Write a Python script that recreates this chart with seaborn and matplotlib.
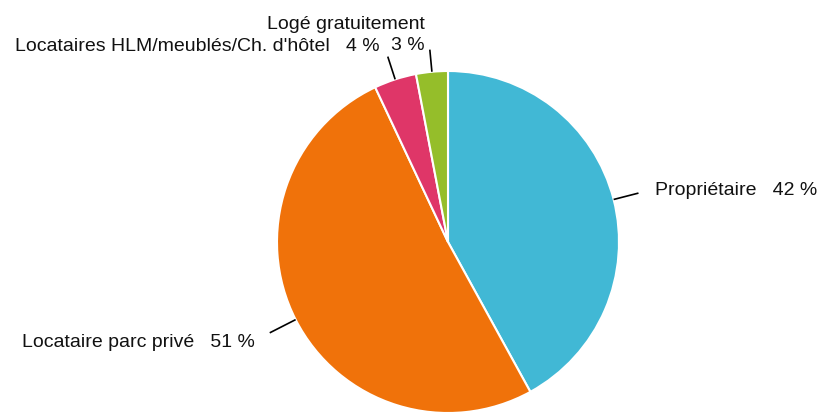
import numpy as np
import matplotlib
matplotlib.use("Agg")
import matplotlib.pyplot as plt
import seaborn as sns

categories = ["Propriétaire", "Locataire parc privé",
              "Locataires HLM/meublés/Ch. d'hôtel", "Logé gratuitement"]
values = [42, 51, 4, 3]
colors = ["#41B8D5", "#F0720A", "#DF3668", "#95BE2A"]

sns.set_theme(style="white")
plt.rcParams['font.family'] = ['Liberation Sans', 'DejaVu Sans']

W, H = 826, 414
fig = plt.figure(figsize=(W / 100, H / 100), dpi=100)
ax = fig.add_axes([0, 0, 1, 1])

cx, cy, r = 448, H - 243, 171
wedges, _ = ax.pie(values, colors=colors, startangle=90, counterclock=False,
                   center=(cx, cy), radius=r,
                   wedgeprops=dict(edgecolor='white', linewidth=1.5))
ax.set_xlim(0, W)
ax.set_ylim(0, H)
ax.set_aspect('equal')
ax.axis('off')

# label layout: (line length factor, text offset px, ha, label text format)
layout = [
    (1.15, (17, -1), 'left', "{c}   {v} %"),
    (1.17, (-15, -13), 'right', "{c}   {v} %"),
    (1.14, (-8, 7), 'right', "{c}   {v} %"),
    (1.13, (-5, 1), 'right', "{c}\n{v} %"),
]
for w, c, v, (f, off, ha, fmt) in zip(wedges, categories, values, layout):
    ang = np.deg2rad((w.theta1 + w.theta2) / 2)
    x0, y0 = cx + r * np.cos(ang), cy + r * np.sin(ang)
    x1, y1 = cx + f * r * np.cos(ang), cy + f * r * np.sin(ang)
    ax.plot([x0, x1], [y0, y1], color='black', lw=1.2, solid_capstyle='butt')
    ax.annotate(fmt.format(c=c, v=v), xy=(x1, y1), xytext=off,
                textcoords='offset pixels', ha=ha, va='baseline',
                multialignment='right', fontsize=14, color='#111111',
                linespacing=1.25)

fig.savefig("out.png", dpi=100)
